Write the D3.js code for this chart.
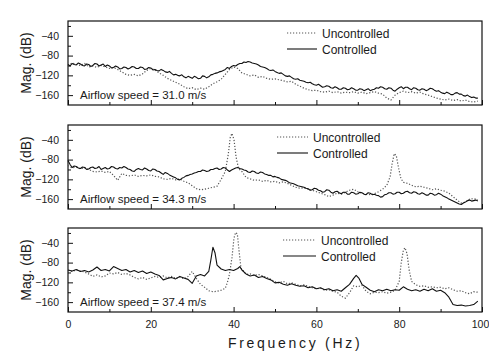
<!DOCTYPE html>
<html>
<head>
<meta charset="utf-8">
<script src="https://cdn.jsdelivr.net/npm/d3@7"></script>
<style>
  body { margin: 0; background: #fff; }
  svg { display: block; }
  text { font-family: "Liberation Sans", Arial, sans-serif; fill: #1a1a1a; }
</style>
</head>
<body>
<svg id="chart" width="489" height="357"></svg>
<script>
// airflow speeds, one per panel
const speeds = ["31.0", "34.3", "37.4"]
const seriesNames = ["Uncontrolled", "Controlled"]
const yTicks = [-40, -80, -120, -160]
const yMinor = [-20, -60, -100, -140]
const xTicks = [0, 20, 40, 60, 80, 100]
const xMinor = [10, 30, 50, 70, 90]

// [frequency Hz, magnitude dB]
const unc31 = [[0,-100],[1,-95],[2,-98],[3,-100],[4,-96],[5,-103],[6,-101],[7,-104],[8,-100],[9,-103],[10,-106],[11,-104],[12,-108],[13,-113],[14,-118],[15,-120],[16,-118],[17,-121],[18,-117],[19,-110],[20,-106],[21,-109],[22,-115],[23,-120],[24,-126],[25,-130],[26,-134],[27,-138],[28,-143],[29,-147],[30,-145],[31,-149],[32,-146],[33,-148],[34,-143],[35,-137],[36,-133],[37,-128],[38,-118],[39,-108],[40,-103],[41,-106],[42,-115],[43,-118],[44,-121],[45,-119],[46,-124],[47,-122],[48,-126],[49,-128],[50,-127],[51,-129],[52,-131],[53,-133],[54,-132],[55,-138],[56,-142],[57,-146],[58,-149],[59,-151],[60,-150],[61,-153],[62,-154],[63,-152],[64,-155],[65,-153],[66,-156],[67,-154],[68,-155],[69,-153],[70,-156],[71,-154],[72,-157],[73,-155],[74,-153],[75,-156],[76,-158],[77,-166],[78,-170],[79,-160],[80,-155],[81,-152],[82,-155],[83,-153],[84,-156],[85,-154],[86,-158],[87,-160],[88,-163],[89,-166],[90,-168],[91,-170],[92,-168],[93,-171],[94,-169],[95,-172],[96,-170],[97,-173],[98,-174],[99,-172]]
const ctl31 = [[0,-98],[0.5,-101],[1,-96],[1.5,-98],[2,-99],[2.5,-95],[3,-97],[3.5,-100],[4,-101],[4.5,-97],[5,-98],[5.5,-102],[6,-100],[6.5,-96],[7,-97],[7.5,-101],[8,-99],[8.5,-97],[9,-102],[9.5,-99],[10,-101],[10.5,-105],[11,-104],[11.5,-101],[12,-103],[12.5,-107],[13,-106],[13.5,-103],[14,-104],[14.5,-107],[15,-105],[15.5,-102],[16,-103],[16.5,-106],[17,-106],[17.5,-103],[18,-104],[18.5,-108],[19,-107],[19.5,-104],[20,-105],[20.5,-109],[21,-108],[21.5,-110],[22,-111],[22.5,-108],[23,-110],[23.5,-113],[24,-114],[24.5,-112],[25,-116],[25.5,-119],[26,-118],[26.5,-120],[27,-121],[27.5,-119],[28,-123],[28.5,-125],[29,-122],[29.5,-124],[30,-126],[30.5,-122],[31,-124],[31.5,-127],[32,-126],[32.5,-121],[33,-122],[33.5,-125],[34,-123],[34.5,-119],[35,-118],[35.5,-116],[36,-115],[36.5,-113],[37,-112],[37.5,-110],[38,-108],[38.5,-104],[39,-106],[39.5,-102],[40,-100],[40.5,-101],[41,-98],[41.5,-96],[42,-96],[42.5,-93],[43,-94],[43.5,-92],[44,-93],[44.5,-95],[45,-96],[45.5,-97],[46,-99],[46.5,-102],[47,-103],[47.5,-104],[48,-106],[48.5,-109],[49,-110],[49.5,-109],[50,-112],[50.5,-114],[51,-116],[51.5,-115],[52,-118],[52.5,-121],[53,-122],[53.5,-121],[54,-124],[54.5,-127],[55,-128],[55.5,-127],[56,-130],[56.5,-131],[57,-132],[57.5,-134],[58,-135],[58.5,-134],[59,-137],[59.5,-139],[60,-140],[60.5,-138],[61,-141],[61.5,-144],[62,-143],[62.5,-141],[63,-142],[63.5,-145],[64,-146],[64.5,-143],[65,-145],[65.5,-148],[66,-148],[66.5,-145],[67,-146],[67.5,-149],[68,-148],[68.5,-145],[69,-147],[69.5,-150],[70,-150],[70.5,-147],[71,-148],[71.5,-151],[72,-149],[72.5,-147],[73,-151],[73.5,-149],[74,-148],[74.5,-145],[75,-146],[75.5,-143],[76,-144],[76.5,-147],[77,-148],[77.5,-145],[78,-146],[78.5,-150],[79,-152],[79.5,-148],[80,-145],[80.5,-143],[81,-147],[81.5,-144],[82,-144],[82.5,-147],[83,-149],[83.5,-145],[84,-146],[84.5,-149],[85,-150],[85.5,-147],[86,-148],[86.5,-151],[87,-149],[87.5,-146],[88,-147],[88.5,-150],[89,-152],[89.5,-151],[90,-154],[90.5,-156],[91,-157],[91.5,-154],[92,-156],[92.5,-159],[93,-159],[93.5,-156],[94,-155],[94.5,-158],[95,-158],[95.5,-161],[96,-162],[96.5,-160],[97,-163],[97.5,-165],[98,-164],[98.5,-166],[99,-166]]

const unc34 = [[0,-92],[1,-97],[2,-95],[3,-99],[4,-96],[5,-100],[6,-104],[7,-105],[8,-103],[9,-106],[10,-104],[11,-112],[12,-122],[13,-108],[14,-112],[15,-113],[16,-111],[17,-114],[18,-112],[19,-113],[20,-111],[21,-114],[22,-115],[23,-119],[24,-120],[25,-118],[26,-121],[27,-119],[28,-124],[29,-127],[30,-133],[31,-139],[32,-141],[33,-140],[34,-138],[35,-136],[36,-134],[37,-120],[38,-104],[38.7,-70],[39.2,-35],[39.6,-27],[40.1,-40],[40.6,-75],[41.2,-98],[42,-104],[43,-116],[44,-119],[45,-122],[46,-121],[47,-124],[48,-122],[49,-125],[50,-124],[51,-127],[52,-125],[53,-128],[54,-132],[55,-136],[56,-138],[57,-137],[58,-140],[59,-142],[60,-145],[61,-148],[62,-151],[63,-155],[64,-152],[65,-148],[66,-150],[67,-146],[68,-142],[69,-140],[70,-145],[71,-148],[72,-150],[73,-151],[74,-149],[75,-145],[76,-140],[77,-132],[77.8,-115],[78.3,-88],[78.8,-68],[79.3,-72],[79.8,-95],[80.4,-118],[81,-126],[82,-128],[83,-132],[84,-135],[85,-134],[86,-136],[87,-138],[88,-141],[89,-139],[90,-142],[91,-144],[92,-148],[93,-155],[94,-162],[95,-168],[96,-166],[97,-160],[98,-159],[99,-161]]
const ctl34 = [[0,-82],[0.5,-90],[1,-96],[1.5,-93],[2,-94],[2.5,-97],[3,-98],[3.5,-95],[4,-96],[4.5,-100],[5,-99],[5.5,-96],[6,-95],[6.5,-98],[7,-97],[7.5,-94],[8,-100],[8.5,-98],[9,-96],[9.5,-99],[10,-98],[10.5,-94],[11,-95],[11.5,-98],[12,-99],[12.5,-96],[13,-97],[13.5,-94],[14,-96],[14.5,-99],[15,-100],[15.5,-103],[16,-104],[16.5,-100],[17,-98],[17.5,-100],[18,-101],[18.5,-97],[19,-99],[19.5,-102],[20,-103],[20.5,-99],[21,-100],[21.5,-103],[22,-104],[22.5,-107],[23,-110],[23.5,-106],[24,-108],[24.5,-111],[25,-113],[25.5,-115],[26,-117],[26.5,-120],[27,-121],[27.5,-118],[28,-116],[28.5,-113],[29,-112],[29.5,-110],[30,-109],[30.5,-107],[31,-106],[31.5,-104],[32,-104],[32.5,-101],[33,-102],[33.5,-104],[34,-103],[34.5,-100],[35,-100],[35.5,-98],[36,-97],[36.5,-100],[37,-99],[37.5,-96],[38,-97],[38.5,-101],[39,-104],[39.5,-101],[40,-99],[40.5,-97],[41,-96],[41.5,-98],[42,-99],[42.5,-101],[43,-102],[43.5,-105],[44,-106],[44.5,-103],[45,-104],[45.5,-107],[46,-108],[46.5,-105],[47,-106],[47.5,-109],[48,-110],[48.5,-112],[49,-112],[49.5,-115],[50,-114],[50.5,-116],[51,-117],[51.5,-120],[52,-121],[52.5,-122],[53,-124],[53.5,-127],[54,-128],[54.5,-129],[55,-131],[55.5,-133],[56,-134],[56.5,-135],[57,-136],[57.5,-138],[58,-139],[58.5,-142],[59,-141],[59.5,-138],[60,-139],[60.5,-142],[61,-143],[61.5,-146],[62,-145],[62.5,-141],[63,-142],[63.5,-146],[64,-148],[64.5,-145],[65,-144],[65.5,-147],[66,-149],[66.5,-146],[67,-146],[67.5,-150],[68,-150],[68.5,-146],[69,-147],[69.5,-150],[70,-149],[70.5,-146],[71,-147],[71.5,-150],[72,-151],[72.5,-147],[73,-148],[73.5,-151],[74,-150],[74.5,-152],[75,-153],[75.5,-156],[76,-155],[76.5,-151],[77,-150],[77.5,-147],[78,-147],[78.5,-150],[79,-149],[79.5,-146],[80,-146],[80.5,-149],[81,-148],[81.5,-145],[82,-144],[82.5,-147],[83,-148],[83.5,-145],[84,-146],[84.5,-149],[85,-150],[85.5,-147],[86,-149],[86.5,-152],[87,-152],[87.5,-148],[88,-149],[88.5,-152],[89,-151],[89.5,-148],[90,-150],[90.5,-153],[91,-155],[91.5,-157],[92,-160],[92.5,-162],[93,-164],[93.5,-166],[94,-168],[94.5,-170],[95,-171],[95.5,-168],[96,-166],[96.5,-163],[97,-162],[97.5,-164],[98,-163],[98.5,-162],[99,-164]]

const unc37 = [[0,-96],[1,-98],[2,-95],[3,-97],[4,-99],[5,-103],[6,-108],[7,-105],[8,-109],[9,-107],[10,-101],[11,-103],[12,-100],[13,-104],[14,-102],[15,-105],[16,-110],[17,-113],[18,-110],[19,-114],[20,-111],[21,-108],[22,-110],[23,-107],[24,-111],[25,-108],[26,-112],[27,-109],[28,-113],[29,-108],[30,-98],[31,-112],[32,-124],[33,-130],[34,-137],[35,-139],[36,-138],[37,-136],[38,-132],[38.5,-120],[39,-104],[39.6,-70],[40.1,-30],[40.5,-19],[40.9,-22],[41.3,-55],[41.8,-92],[42.5,-98],[43,-104],[44,-103],[45,-106],[46,-104],[47,-107],[48,-110],[49,-114],[50,-119],[51,-121],[52,-118],[53,-123],[54,-121],[55,-124],[56,-127],[57,-125],[58,-128],[59,-131],[60,-133],[61,-132],[62,-136],[63,-135],[64,-138],[65,-140],[66,-148],[67,-152],[68,-141],[69,-127],[70,-129],[71,-126],[72,-138],[73,-143],[74,-140],[75,-141],[76,-139],[77,-142],[78,-140],[79,-136],[80,-118],[80.5,-80],[81,-55],[81.4,-50],[81.9,-62],[82.4,-95],[83,-118],[84,-125],[85,-128],[86,-127],[87,-130],[88,-129],[89,-131],[90,-130],[91,-133],[92,-131],[93,-135],[94,-138],[95,-137],[96,-141],[97,-143],[98,-139],[99,-140]]
const ctl37 = [[0,-95],[1,-97],[2,-94],[3,-98],[4,-96],[5,-99],[6,-95],[7,-89],[8,-96],[9,-94],[10,-97],[11,-88],[12,-92],[13,-96],[14,-94],[15,-99],[16,-96],[17,-100],[18,-97],[19,-102],[20,-99],[21,-103],[22,-106],[23,-115],[24,-112],[25,-110],[26,-113],[27,-108],[28,-111],[29,-114],[30,-122],[31,-107],[32,-104],[33,-107],[34,-98],[34.5,-75],[35,-49],[35.5,-60],[36,-85],[37,-93],[38,-96],[39,-94],[40,-96],[41,-92],[41.5,-88],[42,-95],[43,-103],[44,-107],[45,-105],[46,-110],[47,-108],[48,-112],[49,-115],[50,-121],[51,-120],[52,-124],[53,-126],[54,-123],[55,-126],[56,-128],[57,-127],[58,-131],[59,-129],[60,-133],[61,-131],[62,-135],[63,-133],[64,-137],[65,-135],[66,-138],[67,-131],[68,-124],[69,-112],[69.6,-106],[70.3,-112],[71,-124],[72,-130],[73,-136],[74,-139],[75,-135],[76,-137],[77,-134],[78,-137],[79,-135],[80,-136],[81,-129],[82,-134],[83,-137],[84,-135],[85,-138],[86,-134],[87,-137],[88,-133],[89,-138],[90,-136],[91,-141],[92,-150],[93,-165],[94,-167],[95,-166],[96,-168],[97,-167],[98,-165],[99,-158]]

const uncontrolled = [unc31, unc34, unc37]
const controlled = [ctl31, ctl34, ctl37]

// layout
const left = 68, right = 482
const panelTop = [21, 125, 228]
const panelH = 84
const legendX = [287, 277, 283]
const legendLen = [30, 31, 33]

let svg = d3.select("#chart")

let x = d3.scaleLinear().domain([0, 100]).range([left, right])

let line = d3.line()

speeds.forEach((speed, i) => {
  let top = panelTop[i]
  let y = d3.scaleLinear().domain([-180, -10]).range([top + panelH, top])
  let g = svg.append("g")

  line.x(d => x(d[0])).y(d => y(d[1]))

  // frame
  g.append("rect")
    .attr("x", left).attr("y", top)
    .attr("width", right - left).attr("height", panelH)
    .attr("fill", "none").attr("stroke", "#111").attr("stroke-width", 1.2)

  // left axis, ticks point inside
  let ya = g.append("g").attr("transform", `translate(${left},0)`)
    .call(d3.axisLeft(y).tickValues(yTicks).tickSize(-5).tickPadding(9))
  ya.select(".domain").remove()
  ya.selectAll("text").style("font-size", "10.5px").attr("fill", "#1a1a1a")
  ya.selectAll("line").attr("stroke", "#111")

  let ym = g.append("g").attr("transform", `translate(${left},0)`)
    .call(d3.axisLeft(y).tickValues(yMinor).tickSize(-3).tickFormat(""))
  ym.select(".domain").remove()
  ym.selectAll("line").attr("stroke", "#111")

  // bottom axis
  let xa = g.append("g").attr("transform", `translate(0,${top + panelH})`)
    .call(d3.axisBottom(x).tickValues(xTicks).tickSize(-5).tickPadding(9)
      .tickFormat(i == 2 ? d3.format("d") : ""))
  xa.select(".domain").remove()
  xa.selectAll("text").style("font-size", "10.5px").attr("fill", "#1a1a1a")
    .attr("dx", d => d == 100 ? -2 : 0)
  xa.selectAll("line").attr("stroke", "#111")

  let xm = g.append("g").attr("transform", `translate(0,${top + panelH})`)
    .call(d3.axisBottom(x).tickValues(xMinor).tickSize(-3).tickFormat(""))
  xm.select(".domain").remove()
  xm.selectAll("line").attr("stroke", "#111")

  // curves
  g.append("path")
    .attr("d", line(uncontrolled[i]))
    .attr("fill", "none")
    .attr("stroke", "#555")
    .attr("stroke-width", 1.2)
    .attr("stroke-dasharray", "1.2,1.8")

  g.append("path")
    .attr("d", line(controlled[i]))
    .attr("fill", "none")
    .attr("stroke", "#111")
    .attr("stroke-width", 1.1)
    .attr("stroke-linejoin", "round")

  // legend
  seriesNames.forEach((name, k) => {
    let ly = top + 12 + k * 16
    g.append("line")
      .attr("x1", legendX[i]).attr("x2", legendX[i] + legendLen[i])
      .attr("y1", ly).attr("y2", ly)
      .attr("stroke", k == 0 ? "#555" : "#111")
      .attr("stroke-width", k == 0 ? 1.2 : 1.1)
      .attr("stroke-dasharray", k == 0 ? "1.2,1.8" : null)
    g.append("text")
      .attr("x", legendX[i] + legendLen[i] + 5)
      .attr("y", ly + 4.5)
      .style("font-size", "12px")
      .text(name)
  })

  g.append("text")
    .attr("x", 80).attr("y", top + panelH - 6)
    .style("font-size", "11.5px")
    .text("Airflow speed = " + speed + " m/s")

  g.append("text")
    .attr("transform", `translate(31,${top + panelH / 2}) rotate(-90)`)
    .attr("text-anchor", "middle")
    .style("font-size", "14px")
    .text("Mag. (dB)")
})

svg.append("text")
  .attr("x", 228).attr("y", 348)
  .style("font-size", "14px")
  .style("letter-spacing", "2.7px")
  .text("Frequency (Hz)")
</script>
</body>
</html>
